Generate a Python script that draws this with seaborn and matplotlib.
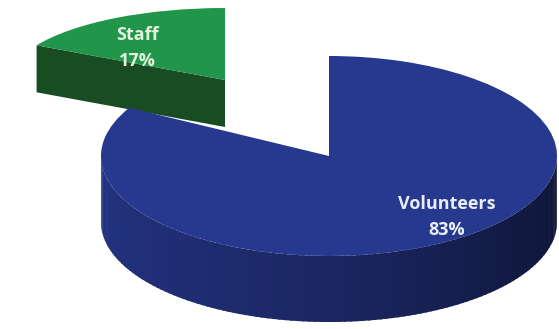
import numpy as np
import matplotlib
matplotlib.use("Agg")
import matplotlib.pyplot as plt
import seaborn as sns
from matplotlib.patches import Polygon
from matplotlib.colors import to_rgb

# ---- data ----
categories = ["Staff", "Volunteers"]
shares = [17, 83]
pct_labels = ["17%", "83%"]

top_colors = ["#21964a", "#27388f"]
side_colors = ["#194c23", "#1d2568"]
text_colors = ["#e2f2dc", "#e8eef8"]

sns.set_theme(style="white")
plt.rcParams['font.family'] = ['Open Sans', 'DejaVu Sans']

W, H = 559, 329
fig = plt.figure(figsize=(W / 100, H / 100), dpi=100)
fig.patch.set_facecolor("white")

# geometry (pixels): centre, semi-axes, depth
geo = {
    "Staff": dict(cx=225, cy=80, a=215, b=72, depth=47),
    "Volunteers": dict(cx=329, cy=156, a=228, b=100, depth=66),
}


def shade(rgb, f):
    return tuple(max(0, min(1, c * f)) for c in rgb)


def draw_slice(idx):
    name = categories[idx]
    g = geo[name]
    ax = fig.add_axes([0, 0, 1, 1])
    ax.set_axis_off()
    ax.patch.set_alpha(0)
    cols = ["none"] * len(shares)
    cols[idx] = top_colors[idx]
    wedges, _ = ax.pie(shares, colors=cols, startangle=90, counterclock=True,
                       radius=1, center=(0, 0),
                       wedgeprops=dict(linewidth=0))
    for j, w in enumerate(wedges):
        if j != idx:
            w.set_visible(False)
    w = wedges[idx]
    t1, t2 = w.theta1, w.theta2
    dy = g["depth"] / g["b"]
    side_rgb = to_rgb(side_colors[idx])
    top_rgb = to_rgb(top_colors[idx])

    # outer curved side (visible where sin < 0)
    lo, hi = max(t1, 180), min(t2, 360)
    if hi > lo:
        edges = np.linspace(lo, hi, 120)
        for s, e in zip(edges[:-1], edges[1:]):
            ts = np.radians(np.linspace(s, e + 0.6, 4))
            xs = np.cos(ts)
            ys = np.sin(ts)
            pts = np.concatenate([np.c_[xs, ys], np.c_[xs[::-1], ys[::-1] - dy]])
            m = 0.5 * (s + e)
            f = np.interp(m, [180, 220, 270, 320, 360], [1.0, 0.9, 0.75, 0.52, 0.4])
            c = shade(top_rgb, f * 0.92)
            ax.add_patch(Polygon(pts, closed=True, facecolor=c, edgecolor="none", zorder=1))

    # flat cut face (visible when its normal faces the viewer)
    for th, normal in ((t1, t1 - 90), (t2, t2 + 90)):
        if np.sin(np.radians(normal)) < -1e-6:
            tx, ty = np.cos(np.radians(th)), np.sin(np.radians(th))
            pts = [(0, 0), (tx, ty), (tx, ty - dy), (0, -dy)]
            ax.add_patch(Polygon(pts, closed=True, facecolor=side_rgb,
                                 edgecolor="none", zorder=1))
    w.set_zorder(3)

    cx, cy, a, b = g["cx"], g["cy"], g["a"], g["b"]
    ax.set_xlim(-cx / a, (W - cx) / a)
    ax.set_ylim((cy - H) / b, cy / b)
    ax.set_aspect("auto")
    return ax


draw_slice(0)
draw_slice(1)

label_pos = {"Staff": (137, 48), "Volunteers": (447, 217)}
for i, name in enumerate(categories):
    px, py = label_pos[name]
    fig.text(px / W, 1 - py / H, f"{name}\n{pct_labels[i]}",
             ha="center", va="center", color=text_colors[i],
             fontsize=13, fontweight="bold", linespacing=1.55)

fig.savefig("out.png", dpi=100, facecolor="white")
